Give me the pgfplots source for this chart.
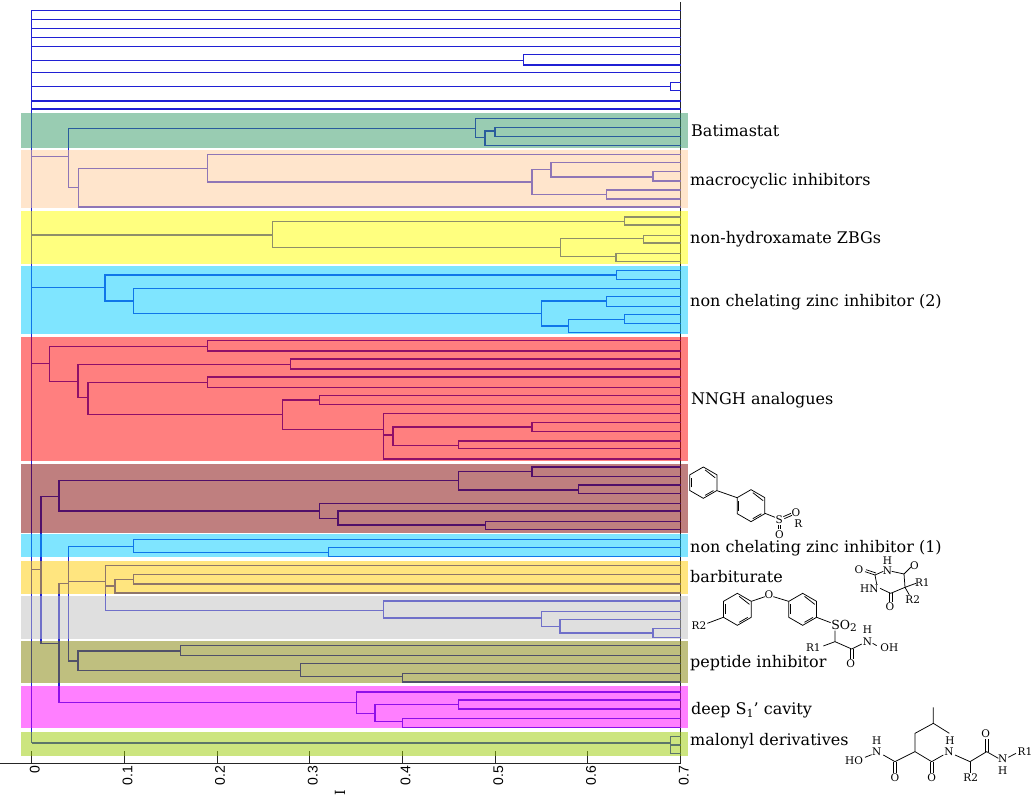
\documentclass[border=0pt]{standalone}
\usepackage{fontspec}
\setmainfont{DejaVu Serif}
\setsansfont{Liberation Sans}
\usepackage{pgfplots}
\pgfplotsset{compat=1.18}
\definecolor{tree}{HTML}{2020D4}
\definecolor{bgreen}{HTML}{339966}
\definecolor{bpeach}{HTML}{FFCC99}
\definecolor{byellow}{HTML}{FFFF00}
\definecolor{bcyan}{HTML}{00CCFF}
\definecolor{bred}{HTML}{FF0000}
\definecolor{bbrown}{HTML}{800000}
\definecolor{bgold}{HTML}{FFCC00}
\definecolor{bgray}{HTML}{C0C0C0}
\definecolor{bolive}{HTML}{808000}
\definecolor{bpink}{HTML}{FF00FF}
\definecolor{blime}{HTML}{99CC00}
\newcommand{\band}[3]{\addplot[draw=none,fill=#1,fill opacity=0.5] coordinates {(-0.01188,#2)(0.70734,#2)(0.70734,#3)(-0.01188,#3)} -- cycle;}
% ring with vertical flat sides, in zoom units
\newcommand{\ring}[3]{% cx cy r
  \begin{scope}[shift={(#1,#2)}]
  \draw (90:#3)--(30:#3)--(-30:#3)--(-90:#3)--(-150:#3)--(150:#3)--cycle;
  \draw (82:0.82*#3)--(38:0.82*#3);
  \draw (-22:0.82*#3)--(-82:0.82*#3);
  \draw (158:0.82*#3)--(-158:0.82*#3);
  \end{scope}
}
\newcommand{\chem}[3]{\node[font=\fontsize{10.5}{11}\selectfont,inner sep=0pt] at (#1,#2) {#3};}
\newcommand{\lab}[3]{\node[anchor=base west,inner sep=0pt] at (#1pt,{802pt-#2pt}) {\fontsize{16}{18}\selectfont #3};}
\begin{document}
\begin{tikzpicture}
\useasboundingbox (0,0) rectangle (1035pt,802pt);
\begin{axis}[
  at={(0pt,800pt)},anchor=north west,
  scale only axis,width=680.7pt,height=761.5pt,
  xmin=-0.03423,xmax=0.7,ymin=2,ymax=763.5,y dir=reverse,
  axis x line=bottom,axis y line=right,
  axis line style={-,line width=1pt,color=black!85},
  clip=false,
  ytick=\empty,
  xtick={0,0.1,0.2,0.3,0.4,0.5,0.6,0.7},
  xticklabels={0,0.1,0.2,0.3,0.4,0.5,0.6,0.7},
  tick align=inside,major tick length=13pt,
  tick style={line width=1pt,color=black!85},
  xticklabel style={rotate=90,anchor=east,font=\sffamily\fontsize{14}{15}\selectfont,inner sep=0pt,yshift=-3pt,xshift=-2pt},
  unbounded coords=jump,
]
\addplot[tree,line width=1.4pt,no marks] coordinates {
% trunk
(0,10.3)(0,743)(nan,nan)
% top leaves
(0,10.3)(0.7,10.3)(nan,nan)(0,19.3)(0.7,19.3)(nan,nan)(0,28.3)(0.7,28.3)(nan,nan)
(0,37.7)(0.7,37.7)(nan,nan)(0,46.7)(0.7,46.7)(nan,nan)(0,72.7)(0.7,72.7)(nan,nan)
(0,101)(0.7,101)(nan,nan)(0,109)(0.7,109)(nan,nan)
(0,60.3)(0.5306,60.3)(nan,nan)(0.7,54.3)(0.5306,54.3)(0.5306,65)(0.7,65)(nan,nan)
(0,86.3)(0.689,86.3)(nan,nan)(0.7,82.7)(0.689,82.7)(0.689,90.7)(0.7,90.7)(nan,nan)
% green + peach
(0,156.7)(0.0396,156.7)(nan,nan)
(0.4787,128.3)(0.0396,128.3)(0.0396,187.7)(0.0504,187.7)(nan,nan)
(0.7,118.3)(0.4787,118.3)(0.4787,137.7)(0.489,137.7)(nan,nan)
(0.4996,131)(0.489,131)(0.489,145.7)(0.7,145.7)(nan,nan)
(0.7,127.3)(0.4996,127.3)(0.4996,136.3)(0.7,136.3)(nan,nan)
(0.1897,168.3)(0.0504,168.3)(0.0504,207)(0.7,207)(nan,nan)
(0.7,154.7)(0.1897,154.7)(0.1897,182)(0.5396,182)(nan,nan)
(0.56,169.3)(0.5396,169.3)(0.5396,194.3)(0.62,194.3)(nan,nan)
(0.7,162.7)(0.56,162.7)(0.56,177)(0.6702,177)(nan,nan)
(0.7,171.7)(0.6702,171.7)(0.6702,181)(0.7,181)(nan,nan)
(0.7,190)(0.62,190)(0.62,199)(0.7,199)(nan,nan)
% yellow
(0,235)(0.26,235)(nan,nan)
(0.6396,221.7)(0.26,221.7)(0.26,247.7)(0.5705,247.7)(nan,nan)
(0.7,217)(0.6396,217)(0.6396,225)(0.7,225)(nan,nan)
(0.66,238.7)(0.5705,238.7)(0.5705,256.7)(0.63,256.7)(nan,nan)
(0.7,235.3)(0.66,235.3)(0.66,243)(0.7,243)(nan,nan)
(0.7,253.3)(0.63,253.3)(0.63,261.7)(0.7,261.7)(nan,nan)
% cyan
(0,287.3)(0.0792,287.3)(nan,nan)
(0.6306,275)(0.0792,275)(0.0792,301)(0.11,301)(nan,nan)
(0.7,270.3)(0.6306,270.3)(0.6306,279.3)(0.7,279.3)(nan,nan)
(0.7,288.7)(0.11,288.7)(0.11,313.3)(0.5497,313.3)(nan,nan)
(0.62,301)(0.5497,301)(0.5497,326)(0.5788,326)(nan,nan)
(0.7,296.7)(0.62,296.7)(0.62,306.7)(0.7,306.7)(nan,nan)
(0.6393,319.3)(0.5788,319.3)(0.5788,332.7)(0.7,332.7)(nan,nan)
(0.7,314.7)(0.6393,314.7)(0.6393,323.7)(0.7,323.7)(nan,nan)
% red
(0,363.7)(0.019,363.7)(nan,nan)
(0.1897,346.7)(0.019,346.7)(0.019,381.7)(0.05,381.7)(nan,nan)
(0.7,340.7)(0.1897,340.7)(0.1897,351)(0.7,351)(nan,nan)
(0.2793,364.7)(0.05,364.7)(0.05,397.3)(0.0605,397.3)(nan,nan)
(0.7,359)(0.2793,359)(0.2793,369)(0.7,369)(nan,nan)
(0.1897,382.7)(0.0605,382.7)(0.0605,414.7)(0.2703,414.7)(nan,nan)
(0.7,377)(0.1897,377)(0.1897,387.3)(0.7,387.3)(nan,nan)
(0.3102,400)(0.2703,400)(0.2703,429.3)(0.3794,429.3)(nan,nan)
(0.7,395.3)(0.3102,395.3)(0.3102,404.3)(0.7,404.3)(nan,nan)
(0.7,413.7)(0.3794,413.7)(0.3794,459)(0.7,459)(nan,nan)
(0.3794,435)(0.3895,435)(nan,nan)
(0.5396,427)(0.3895,427)(0.3895,445.3)(0.46,445.3)(nan,nan)
(0.7,422.7)(0.5396,422.7)(0.5396,431.7)(0.7,431.7)(nan,nan)
(0.7,441)(0.46,441)(0.46,448.7)(0.7,448.7)(nan,nan)
% 0.01 node
(0,569.3)(0.01,569.3)(nan,nan)
(0.0295,496.3)(0.01,496.3)(0.01,643.3)(0.0295,643.3)(nan,nan)
% brown
(0.46,480.7)(0.0295,480.7)(0.0295,511)(0.3102,511)(nan,nan)
(0.5396,471.3)(0.46,471.3)(0.46,490)(0.5896,490)(nan,nan)
(0.7,467)(0.5396,467)(0.5396,476.3)(0.7,476.3)(nan,nan)
(0.7,485)(0.5896,485)(0.5896,493.3)(0.7,493.3)(nan,nan)
(0.7,503.3)(0.3102,503.3)(0.3102,518.3)(0.3304,518.3)(nan,nan)
(0.7,511)(0.3304,511)(0.3304,525)(0.4895,525)(nan,nan)
(0.7,521.7)(0.4895,521.7)(0.4895,529.3)(0.7,529.3)(nan,nan)
% lower 0.03 node
(0.0396,583.7)(0.0295,583.7)(0.0295,702.3)(0.35,702.3)(nan,nan)
(0.11,546.7)(0.0396,546.7)(0.0396,661)(0.05,661)(nan,nan)
(0.7,539.7)(0.11,539.7)(0.11,552.3)(0.3203,552.3)(nan,nan)
(0.7,547.7)(0.3203,547.7)(0.3203,556.7)(0.7,556.7)(nan,nan)
% gold + gray
(0.0396,581.7)(0.0795,581.7)(nan,nan)
(0.7,565.7)(0.0795,565.7)(0.0795,610.3)(0.3794,610.3)(nan,nan)
(0.0795,586)(0.09,586)(nan,nan)
(0.11,579.7)(0.09,579.7)(0.09,593)(0.7,593)(nan,nan)
(0.7,574.7)(0.11,574.7)(0.11,584)(0.7,584)(nan,nan)
(0.7,601)(0.3794,601)(0.3794,618)(0.5497,618)(nan,nan)
(0.7,611.3)(0.5497,611.3)(0.5497,626.3)(0.57,626.3)(nan,nan)
(0.7,619.3)(0.57,619.3)(0.57,633)(0.67,633)(nan,nan)
(0.7,628.3)(0.67,628.3)(0.67,637.3)(0.7,637.3)(nan,nan)
% olive
(0.1605,651)(0.05,651)(0.05,670.7)(0.2897,670.7)(nan,nan)
(0.7,645.7)(0.1605,645.7)(0.1605,655.7)(0.7,655.7)(nan,nan)
(0.7,663.3)(0.2897,663.3)(0.2897,676.7)(0.4,676.7)(nan,nan)
(0.7,673.7)(0.4,673.7)(0.4,682)(0.7,682)(nan,nan)
% magenta
(0.7,692)(0.35,692)(0.35,713.3)(0.3704,713.3)(nan,nan)
(0.46,704.3)(0.3704,704.3)(0.3704,721.3)(0.4,721.3)(nan,nan)
(0.7,700)(0.46,700)(0.46,709)(0.7,709)(nan,nan)
(0.7,718.3)(0.4,718.3)(0.4,727.3)(0.7,727.3)(nan,nan)
% lime
(0,743)(0.689,743)(nan,nan)
(0.7,736.3)(0.689,736.3)(0.689,753.3)(0.7,753.3)(nan,nan)
(0.689,745)(0.7,745)
};
\band{bgreen}{112.7}{147.7}
\band{bpeach}{149.7}{208.3}
\band{byellow}{210.7}{263.7}
\band{bcyan}{266}{334.3}
\band{bred}{337.3}{460.7}
\band{bbrown}{464}{532.7}
\band{bcyan}{534}{557.3}
\band{bgold}{561}{594}
\band{bgray}{595.7}{639.3}
\band{bolive}{640.7}{683.3}
\band{bpink}{685.7}{728.3}
\band{blime}{732}{756}
\end{axis}
\node[rotate=90,inner sep=0pt,font=\fontsize{14}{15}\selectfont] at (340pt,9pt) {I};
\lab{691}{136.5}{Batimastat}
\lab{690}{185.5}{macrocyclic inhibitors}
\lab{690}{243.5}{non-hydroxamate ZBGs}
\lab{690}{306.5}{non chelating zinc inhibitor (2)}
\lab{691}{404.5}{NNGH analogues}
\lab{690}{552.5}{non chelating zinc inhibitor (1)}
\lab{690}{582.5}{barbiturate}
\lab{690}{667.5}{peptide inhibitor}
\lab{691}{714.5}{deep S\raisebox{-3pt}{\fontsize{11}{11}\selectfont 1}' cavity}
\lab{690}{746}{malonyl derivatives}
\begin{scope}[shift={(680pt,342pt)},x=0.33333pt,y=-0.33333pt,line width=0.75pt,black]
% biphenyl sulfone
\ring{70}{68}{47}
\ring{213}{137}{48}
\draw (111,92)--(171,113);
\draw (255,160)--(285,172);
\chem{298}{180}{S}\chem{348}{157}{O}\chem{298}{224}{O}\chem{355}{190}{R}
\draw (310,170)--(333,160) (313,176)--(336,166);
\draw (294,195)--(294,208) (302,195)--(302,208);
% barbiturate
\chem{622}{301}{H}\chem{622}{331}{N}\chem{703}{316}{O}\chem{537}{328}{O}\chem{568}{385}{HN}
\chem{727}{367}{R1}\chem{698}{418}{R2}\chem{630}{440}{O}
\draw (635,334)--(672,342)--(675,382)--(632,400)--(600,385);
\draw (590,372)--(585,345)--(610,334);
\draw (672,342)--(692,322);
\draw (585,345)--(555,335) (588,339)--(558,329);
\draw (675,382)--(708,370) (675,382)--(688,405);
\draw (628,400)--(628,425) (636,400)--(636,425);
% diaryl ether
\ring{172}{448}{48}
\ring{368}{448}{48}
\chem{57}{497}{R2}\chem{267}{403}{O}
\draw (82,490)--(130,472) (214,424)--(255,410) (280,410)--(326,424) (410,472)--(452,488);
\node[font=\fontsize{12.5}{13}\selectfont,inner sep=0pt] at (492,497) {SO\raisebox{-2.5pt}{\fontsize{10.5}{10}\selectfont 2}};
\chem{400}{563}{R1}\chem{562}{510}{H}\chem{562}{545}{N}\chem{628}{563}{OH}\chem{512}{612}{O}
\draw (465,512)--(465,545)--(430,558) (465,545)--(515,567)--(545,552);
\draw (511,567)--(511,598) (519,567)--(519,598);
\draw (578,550)--(590,557);
% malonyl
\chem{522}{902}{HO}\chem{590}{841}{H}\chem{590}{876}{N}\chem{645}{953}{O}\chem{755}{953}{O}
\chem{810}{841}{H}\chem{807}{876}{N}\chem{872}{953}{R2}\chem{917}{822}{O}
\chem{968}{897}{N}\chem{968}{932}{H}\chem{1035}{875}{R1}
\draw (555,892)--(575,884) (610,885)--(645,905)--(705,875)--(755,905)--(790,885) (825,885)--(870,905)--(920,875)--(955,895);
\draw (705,875)--(705,820)--(760,790)--(760,742) (760,790)--(808,820);
\draw (641,905)--(641,938) (649,905)--(649,938);
\draw (751,905)--(751,938) (759,905)--(759,938);
\draw (870,905)--(870,938);
\draw (916,875)--(916,838) (924,875)--(924,838);
\draw (985,892)--(1008,880);
\end{scope}
\end{tikzpicture}
\end{document}
